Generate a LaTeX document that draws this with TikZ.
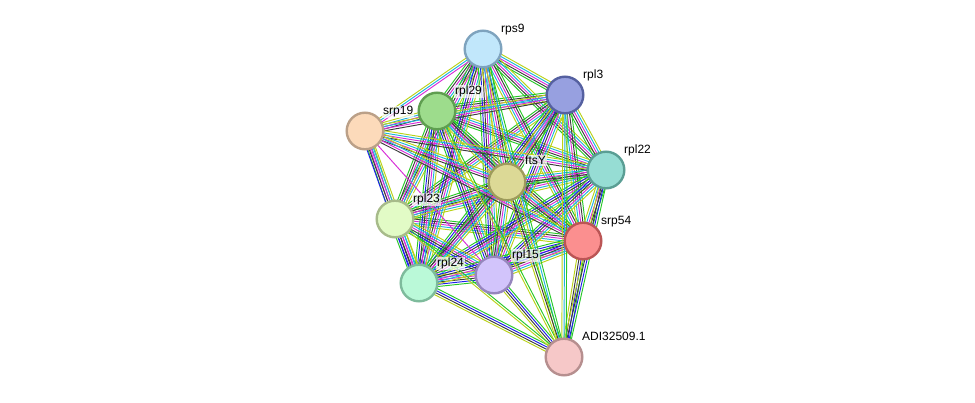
\documentclass[tikz,border=0pt]{standalone}
\usepackage{fontspec}
\setmainfont{Liberation Sans}
\usetikzlibrary{calc,backgrounds}
\definecolor{nb}{RGB}{40,200,40}
\definecolor{co}{RGB}{30,30,235}
\definecolor{cx}{RGB}{60,60,60}
\definecolor{ex}{RGB}{215,45,215}
\definecolor{db}{RGB}{30,180,220}
\definecolor{tm}{RGB}{185,210,25}
\tikzset{
  prot/.style={circle,minimum size=36.6pt,inner sep=0pt,line width=2.4pt},
  lbl/.style={anchor=base west,inner sep=1pt,fill=white,fill opacity=0.7,text opacity=1,
    font=\fontsize{12}{14}\selectfont},
  ev/.style={line width=0.95pt}
}
\newcommand{\edgebundle}[3]{%
  \foreach \col [count=\i] in {#3} {\xdef\nlines{\i}}
  \foreach \col [count=\i] in {#3} {
    \pgfmathsetmacro\off{(\i-(\nlines+1)/2)*2.2}
    \draw[ev,draw=\col] ($(#1.center)!\off pt!90:(#2.center)$) -- ($(#2.center)!\off pt!-90:(#1.center)$);
  }
}

\begin{document}
\begin{tikzpicture}[x=1pt,y=-1pt]
  \useasboundingbox (0,0) rectangle (975,403);
  \node[prot,fill={rgb,255:red,193;green,231;blue,251},draw={rgb,255:red,126;green,163;blue,190}] (rps9) at (483,49) {};
  \node[prot,fill={rgb,255:red,151;green,160;blue,224},draw={rgb,255:red,85;green,96;blue,160}] (rpl3) at (565,95) {};
  \node[prot,fill={rgb,255:red,157;green,220;blue,140},draw={rgb,255:red,95;green,158;blue,80}] (rpl29) at (437,111) {};
  \node[prot,fill={rgb,255:red,252;green,218;blue,186},draw={rgb,255:red,187;green,160;blue,136}] (srp19) at (365,131) {};
  \node[prot,fill={rgb,255:red,150;green,221;blue,212},draw={rgb,255:red,90;green,158;blue,148}] (rpl22) at (606,170) {};
  \node[prot,fill={rgb,255:red,220;green,217;blue,150},draw={rgb,255:red,158;green,155;blue,92}] (ftsY) at (507,182) {};
  \node[prot,fill={rgb,255:red,226;green,251;blue,198},draw={rgb,255:red,167;green,187;blue,138}] (rpl23) at (395,219) {};
  \node[prot,fill={rgb,255:red,251;green,143;blue,143},draw={rgb,255:red,187;green,85;blue,85}] (srp54) at (583,241) {};
  \node[prot,fill={rgb,255:red,186;green,249;blue,216},draw={rgb,255:red,126;green,187;blue,156}] (rpl24) at (419,283) {};
  \node[prot,fill={rgb,255:red,210;green,196;blue,251},draw={rgb,255:red,150;green,134;blue,189}] (rpl15) at (494,275) {};
  \node[prot,fill={rgb,255:red,246;green,200;blue,200},draw={rgb,255:red,182;green,143;blue,143}] (adi) at (564,357) {};

  \node[lbl] (rps9-l) at ($(rps9.center)+(17,-16)$) {rps9};
  \node[lbl] (rpl3-l) at ($(rpl3.center)+(17,-16)$) {rpl3};
  \node[lbl] (rpl29-l) at ($(rpl29.center)+(17,-16)$) {rpl29};
  \node[lbl] (srp19-l) at ($(srp19.center)+(17,-16)$) {srp19};
  \node[lbl] (rpl22-l) at ($(rpl22.center)+(17,-16)$) {rpl22};
  \node[lbl] (ftsY-l) at ($(ftsY.center)+(17,-17)$) {ftsY};
  \node[lbl] (rpl23-l) at ($(rpl23.center)+(17,-16)$) {rpl23};
  \node[lbl] (srp54-l) at ($(srp54.center)+(17,-16)$) {srp54};
  \node[lbl] (rpl24-l) at ($(rpl24.center)+(17,-16)$) {rpl24};
  \node[lbl] (rpl15-l) at ($(rpl15.center)+(17,-16)$) {rpl15};
  \node[lbl] (adi-l) at ($(adi.center)+(17,-16)$) {ADI32509.1};

  \begin{scope}[on background layer]
    \foreach \a/\b in {rps9/rpl3,rps9/rpl29,rps9/rpl22,rps9/rpl23,
        rpl3/rpl29,rpl3/rpl22,rpl3/rpl23,
        rpl29/rpl22,rpl29/rpl23,rpl22/rpl23,
        srp54/rps9,srp54/rpl3,srp54/rpl29,srp54/rpl22,srp54/rpl23}
      {\edgebundle{\a}{\b}{nb,cx,ex,db,tm}}
    \foreach \a/\b in {rps9/rpl24,rps9/rpl15,rpl3/rpl24,rpl3/rpl15,rpl29/rpl24,rpl29/rpl15,
        rpl22/rpl24,rpl22/rpl15,rpl23/rpl24,rpl23/rpl15,rpl24/rpl15,srp54/rpl24,srp54/rpl15}
      {\edgebundle{\a}{\b}{nb,co,cx,ex,db,tm}}
    \foreach \a/\b in {ftsY/rps9,ftsY/rpl3,ftsY/rpl29,ftsY/rpl22,ftsY/rpl23,ftsY/rpl24,ftsY/rpl15,ftsY/srp54}
      {\edgebundle{\a}{\b}{nb,cx,ex,db,tm}}
    \foreach \a/\b in {srp19/rpl29,srp19/rpl3,srp19/rpl22,srp19/ftsY}
      {\edgebundle{\a}{\b}{cx,ex,db,tm}}
    \edgebundle{srp19}{rps9}{ex,db,tm}
    \edgebundle{srp19}{srp54}{cx,ex,db,tm}
    \edgebundle{srp19}{rpl23}{nb,ex,db,tm}
    \edgebundle{srp19}{rpl24}{co,cx,ex,db,tm}
    \edgebundle{srp19}{rpl15}{ex}
    \foreach \b in {rpl24,rpl15,srp54,rpl22}
      {\edgebundle{adi}{\b}{nb,co,cx,tm}}
    \edgebundle{adi}{rpl23}{nb,tm}
    \edgebundle{adi}{rpl29}{nb,tm}
    \edgebundle{adi}{rpl3}{nb,db,tm}
    \edgebundle{adi}{rps9}{nb,db,tm}
    \edgebundle{adi}{ftsY}{nb,cx,tm}
  \end{scope}
\end{tikzpicture}
\end{document}
